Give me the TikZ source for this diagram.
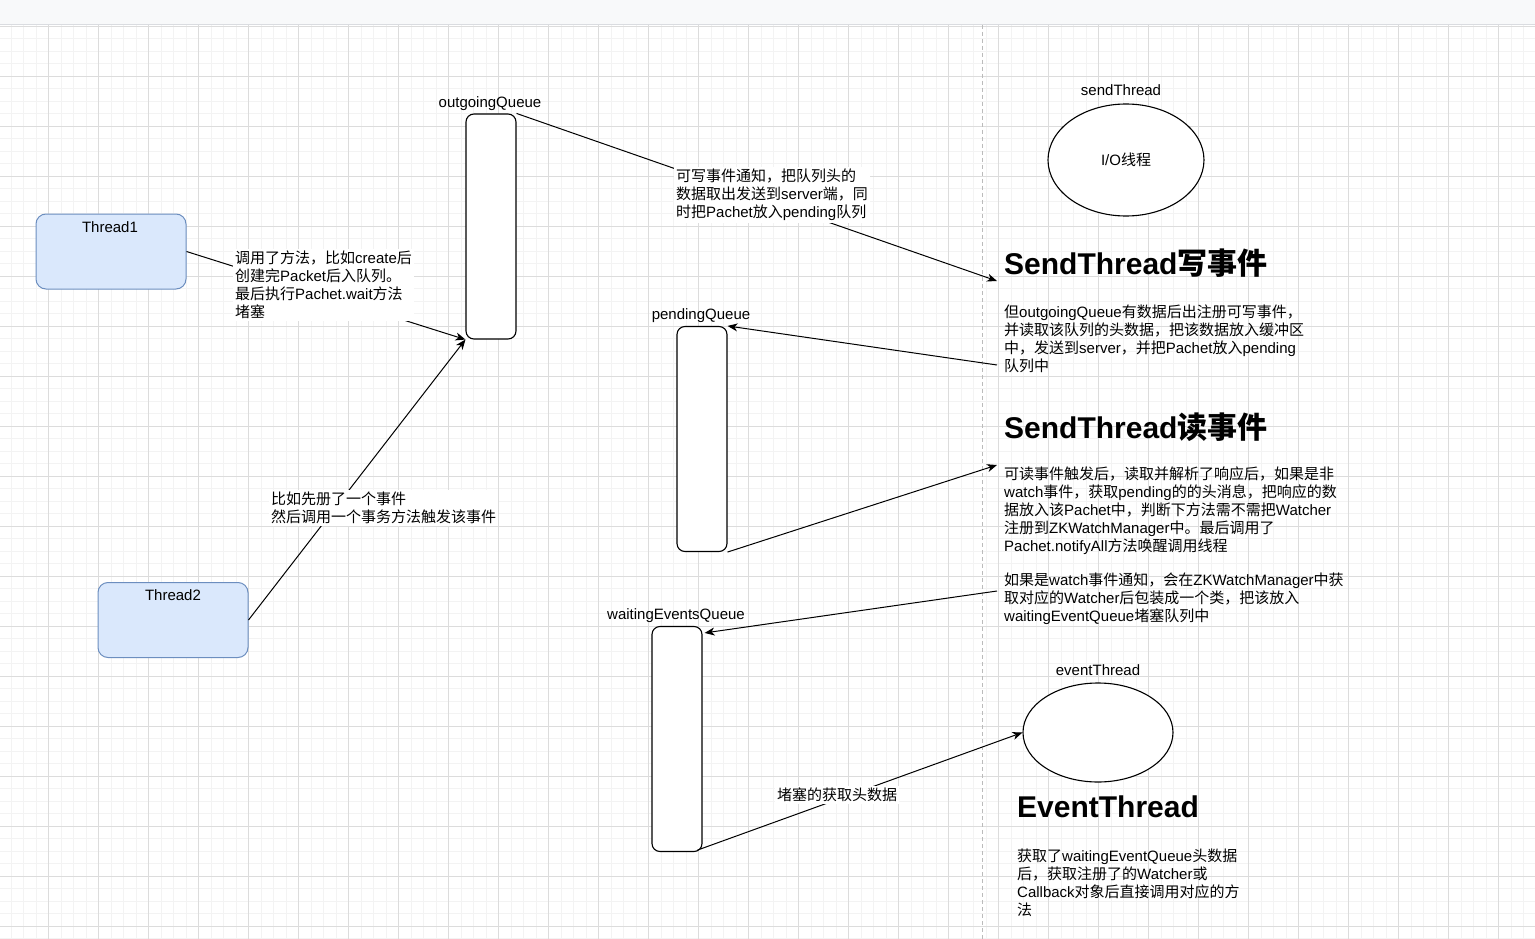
\documentclass[tikz,border=0pt]{standalone}
\usepackage{fontspec}
\setmainfont{Liberation Sans}
\newfontfamily\cjkfont{Noto Sans CJK SC}
\usetikzlibrary{shapes.geometric,arrows.meta}
\XeTeXinterchartokenstate=1
\chardef\CJKcls=250
\newcount\cjkc
\def\setcjkrange#1#2{\cjkc=#1 \loop\XeTeXcharclass\cjkc=\CJKcls\relax\ifnum\cjkc<#2 \advance\cjkc by 1 \repeat}
\setcjkrange{"3000}{"303F}
\setcjkrange{"4E00}{"9FFF}
\setcjkrange{"FF00}{"FFEF}
\XeTeXinterchartoks 0 \CJKcls = {\cjkfont}
\XeTeXinterchartoks 4095 \CJKcls = {\cjkfont}
\XeTeXinterchartoks \CJKcls 0 = {\rmfamily}
\XeTeXinterchartoks \CJKcls 4095 = {\rmfamily}
\definecolor{tfill}{HTML}{DAE8FC}
\definecolor{tdraw}{HTML}{6C8EBF}
\definecolor{barfill}{HTML}{F8F9FA}
\definecolor{barline}{HTML}{DADCE0}
\definecolor{gminor}{HTML}{F3F3F3}
\definecolor{gmajor}{HTML}{DCDCDC}
\definecolor{dashc}{HTML}{BBBBBB}
\newcommand\bodyfont{\fontsize{15}{18}\selectfont}
\newcommand\headfont{\fontsize{30}{36}\selectfont\bfseries}
\begin{document}
\begin{tikzpicture}[x=1pt,y=-1pt,
  tbox/.style={draw=tdraw,fill=tfill,rounded corners=10pt,line width=1pt,minimum width=150pt,minimum height=75pt,inner sep=0pt},
  queue/.style={draw,fill=white,rounded corners=8pt,line width=1.1pt,minimum width=50pt,minimum height=225pt,inner sep=0pt},
  oval/.style={draw,fill=white,ellipse,line width=1.1pt,inner sep=0pt},
  lbl/.style={inner sep=0pt,font=\bodyfont},
  textblock/.style={anchor=north west,inner sep=0pt,align=left,font=\bodyfont},
  edgelbl/.style={anchor=north west,inner sep=2pt,align=left,font=\bodyfont,fill=white},
  heading/.style={anchor=west,inner sep=0pt,font=\headfont},
  conn/.style={line width=1pt,-{Stealth[length=10pt,width=8pt,inset=3pt]}}]
\useasboundingbox (0,0) rectangle (1535,939);
\fill[white] (0,0) rectangle (1535,939);
% grid
\foreach \i in {0,...,122} {\draw[gminor,line width=0.8pt] ({11+12.5*\i},25) -- ({11+12.5*\i},939);}
\foreach \j in {0,...,73} {\draw[gminor,line width=0.8pt] (0,{26.3+12.5*\j}) -- (1535,{26.3+12.5*\j});}
\foreach \i in {0,...,29} {\draw[gmajor,line width=0.8pt] ({48.5+50*\i},25) -- ({48.5+50*\i},939);}
\foreach \j in {0,...,18} {\draw[gmajor,line width=0.8pt] (0,{26.3+50*\j}) -- (1535,{26.3+50*\j});}
\draw[dashc,line width=1pt,dash pattern=on 4pt off 3pt] (982,25) -- (982,939);
% top bar
\fill[barfill] (0,0) rectangle (1535,25);
\draw[barline,line width=1pt] (0,25) -- (1535,25);
% shapes
\node[tbox] (t1) at (111,251.5) {};
\node[lbl] (t1l) at (110,227) {Thread1};
\node[tbox] (t2) at (173,620) {};
\node[lbl] (t2l) at (173,595) {Thread2};
\node[queue] (outq) at (491,226.5) {};
\node[lbl] (outql) at (490,104) {outgoingQueue};
\node[queue] (pendq) at (702,439) {};
\node[lbl] (pendql) at (701,316) {pendingQueue};
\node[queue] (waitq) at (677,739) {};
\node[lbl] (waitql) at (676,616) {waitingEventsQueue};
\node[oval,minimum width=156pt,minimum height=112pt,font=\bodyfont] (st) at (1126,160) {I/O线程};
\node[lbl] (stl) at (1121,90) {sendThread};
\node[oval,minimum width=150pt,minimum height=99pt] (et) at (1098,732.5) {};
\node[lbl] (etl) at (1098,670) {eventThread};
% headings and texts
\node[heading] (wh) at (1004,263) {SendThread写事件};
\node[textblock] (wtxt) at (1004,305) {但outgoingQueue有数据后出注册可写事件，\\并读取该队列的头数据，把该数据放入缓冲区\\中，发送到server，并把Pachet放入pending\\队列中};
\node[heading] (rh) at (1004,427) {SendThread读事件};
\node[textblock] (rtxt) at (1004,467) {可读事件触发后，读取并解析了响应后，如果是非\\watch事件，获取pending的的头消息，把响应的数\\据放入该Pachet中，判断下方法需不需把Watcher\\注册到ZKWatchManager中。最后调用了\\Pachet.notifyAll方法唤醒调用线程};
\node[textblock] (wtch) at (1004,573) {如果是watch事件通知，会在ZKWatchManager中获\\取对应的Watcher后包装成一个类，把该放入\\waitingEventQueue堵塞队列中};
\node[heading] (eh) at (1017,807) {EventThread};
\node[textblock] (etxt) at (1017,849) {获取了waitingEventQueue头数据\\后，获取注册了的Watcher或\\Callback对象后直接调用对应的方\\法};
% connector end points
\coordinate (whin) at (997,281);
\coordinate (wout) at (997,365);
\coordinate (rin) at (997,465);
\coordinate (wcout) at (997,591);
% connectors
\draw[conn] (t1.east) -- (outq.south west);
\draw[conn] (t2.east) -- (outq.south west);
\draw[conn] (outq.north east) -- (whin);
\draw[conn] (wout) -- (pendq.north east);
\draw[conn] (pendq.south east) -- (rin);
\draw[conn] (wcout) -- ([xshift=2pt,yshift=-7pt]waitq.north east);
\draw[conn] ([xshift=-5pt,yshift=2pt]waitq.south east) -- (et.west);
% edge labels
\node[edgelbl] (l1) at (233,249) {调用了方法，比如create后\\创建完Packet后入队列。\\最后执行Pachet.wait方法\\堵塞};
\node[edgelbl] (l2) at (674,167) {可写事件通知，把队列头的\\数据取出发送到server端，同\\时把Pachet放入pending队列};
\node[edgelbl] (l3) at (269,490) {比如先册了一个事件\\然后调用一个事务方法触发该事件};
\node[lbl,fill=white,inner sep=2pt] (l4) at (837,795) {堵塞的获取头数据};
\end{tikzpicture}
\end{document}
